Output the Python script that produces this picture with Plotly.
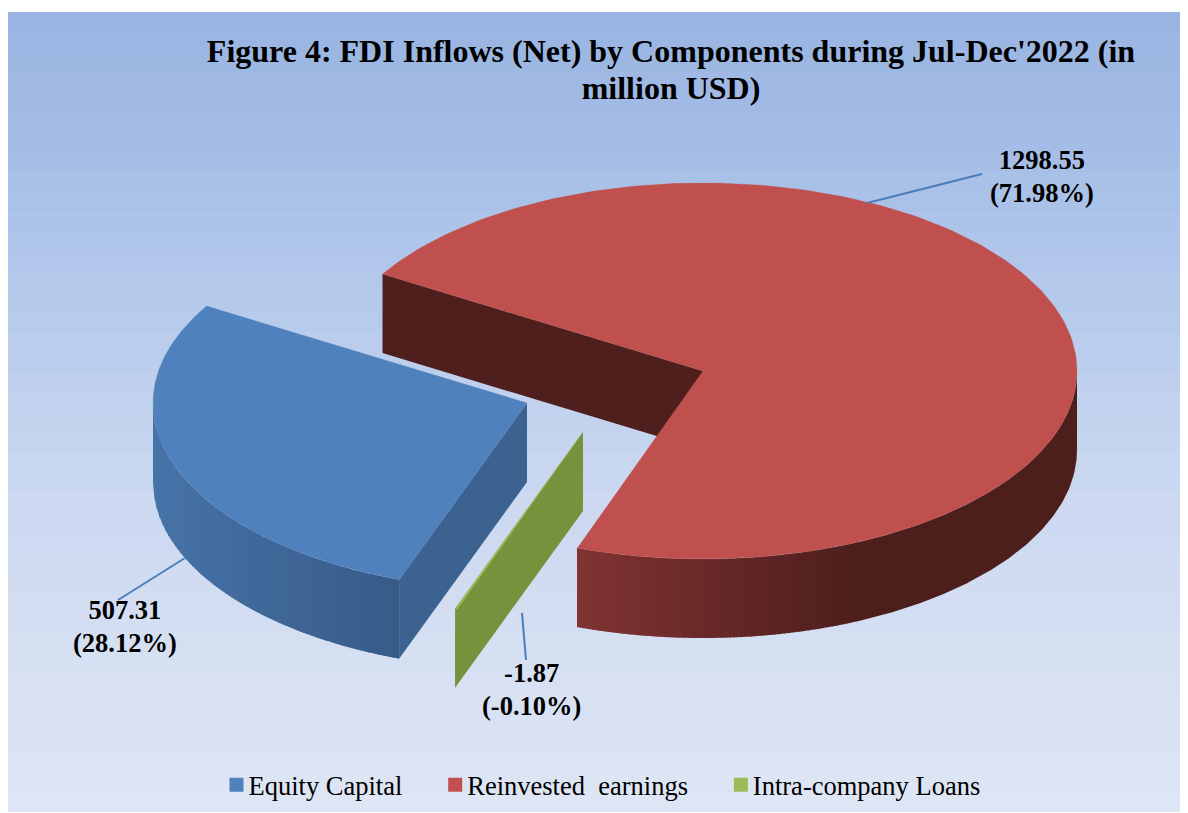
import math
import plotly.graph_objects as go

# ---- data ----
categories = ["Equity Capital", "Reinvested  earnings", "Intra-company Loans"]
values = [507.31, 1298.55, -1.87]
shares = ["28.12%", "71.98%", "-0.10%"]

# ---- chart geometry (pixel-based axes; the page body adds an 8 px margin) ----
W, H = 1188, 813
PAGE = 8
RX, RY, DEPTH = 374, 188, 79
CENTER = (703, 371)
START_ANGLE = 200.0
EXPLODE = [(-176, 32), (0, 0), (-120, 61)]
TOPS = ["#4F81BD", "#C0504D", "#9BBB59"]
CUT_FACE = ["#3C6390", "#4E1F1C", "#76923C"]
LEADER = "#4A7EBB"
SERIF = "Liberation Serif, Times New Roman, serif"


def lerp(c1, c2, t):
    t = max(0.0, min(1.0, t))
    return "rgb(%d,%d,%d)" % tuple(round(a + (b - a) * t) for a, b in zip(c1, c2))


def pt(cx, cy, ang, drop=0.0):
    a = math.radians(ang)
    return cx + RX * math.sin(a), cy - RY * math.cos(a) + drop


def arc(cx, cy, a0, a1, drop=0.0, n=200):
    return [pt(cx, cy, a0 + (a1 - a0) * i / n, drop=drop) for i in range(n + 1)]


def front_y(cx, cy, x):
    u = max(-1.0, min(1.0, (x - cx) / RX))
    return cy + RY * math.sqrt(1 - u * u)


fig = go.Figure()


def poly(points, color, line_color=None, line_width=0.0):
    xs = [p[0] for p in points] + [points[0][0]]
    ys = [p[1] for p in points] + [points[0][1]]
    fig.add_trace(go.Scatter(
        x=xs, y=ys, mode="lines", fill="toself", fillcolor=color,
        line=dict(color=line_color or color, width=line_width),
        hoverinfo="skip", showlegend=False))


def wall_strips(cx, cy, x_from, x_to, colour_at, step=3):
    """Vertical strips on whole pixels, each overlapping the next one."""
    x = x_from
    while x < x_to:
        x1 = min(x + step + 1, x_to)
        xs = [x + (x1 - x) * i / 3 for i in range(4)]
        top = [(q, front_y(cx, cy, q)) for q in xs]
        bot = [(q, front_y(cx, cy, q) + DEPTH) for q in reversed(xs)]
        poly(top + bot, colour_at(x + step / 2))
        x += step


# background gradient
n_grad = 40
fig.add_trace(go.Heatmap(
    x=[0, 600, W],
    y=[12 + (812 - 12) * i / n_grad for i in range(n_grad + 1)],
    z=[[i, i] for i in range(n_grad)], zmin=0, zmax=n_grad - 1,
    colorscale=[[0, "#99B4E2"], [0.35, "#B4C9EB"], [0.6, "#CBD8F0"], [1, "#DEE6F5"]],
    showscale=False, hoverinfo="skip"))

# slice angles come from the values
total = sum(abs(v) for v in values)
angles = []
a = START_ANGLE
for v in values:
    s = abs(v) / total * 360
    angles.append((a, a + s))
    a += s

# red slice (index 1)
c = (CENTER[0] + EXPLODE[1][0], CENTER[1] + EXPLODE[1][1])
a0, a1 = angles[1]
e0 = pt(c[0], c[1], a0)
poly([c, e0, (e0[0], e0[1] + DEPTH), (c[0], c[1] + DEPTH)], CUT_FACE[1])
red_l, red_d = (128, 51, 50), (76, 30, 28)
x_left = round(pt(c[0], c[1], a1)[0])
X_DARK = 860
wall_strips(c[0], c[1], x_left, X_DARK,
            lambda x: lerp(red_l, red_d, (x - x_left) / (X_DARK - x_left)))
dark_top = arc(c[0], c[1], 90, 180 + math.degrees(math.asin((c[0] - X_DARK) / RX)), n=120)
dark_bot = arc(c[0], c[1], 180 + math.degrees(math.asin((c[0] - X_DARK) / RX)), 90, drop=DEPTH, n=120)
poly(dark_top + dark_bot, lerp(red_d, red_d, 0))
poly(arc(c[0], c[1], a0, a1) + [c], TOPS[1], line_width=0.3)

# blue slice (index 0)
c = (CENTER[0] + EXPLODE[0][0], CENTER[1] + EXPLODE[0][1])
a0, a1 = angles[0]
blue_l, blue_d = (70, 115, 168), (56, 91, 136)
x_end = round(pt(c[0], c[1], a0)[0])
x_start = round(c[0] - RX)
wall_strips(c[0], c[1], x_start, x_end,
            lambda x: lerp(blue_l, blue_d, (x - x_start) / (x_end - x_start)))
e = pt(c[0], c[1], a0)
poly([c, e, (e[0], e[1] + DEPTH), (c[0], c[1] + DEPTH)], CUT_FACE[0])
poly(arc(c[0], c[1], a0, a1) + [c], TOPS[0], line_width=0.3)

# green sliver (index 2)
c = (CENTER[0] + EXPLODE[2][0], CENTER[1] + EXPLODE[2][1])
a0, a1 = angles[2]
e = pt(c[0], c[1], a1)
poly([c, e, (e[0], e[1] + DEPTH), (c[0], c[1] + DEPTH)], CUT_FACE[2])
poly(arc(c[0], c[1], a0, a1, n=4) + [c], TOPS[2], line_color=TOPS[2], line_width=0.4)

# leader lines
LEADERS = [((185, 558), (118, 600)), ((867, 203), (982, 174)), ((522, 613), (526, 660))]
for p, q in LEADERS:
    fig.add_trace(go.Scatter(x=[p[0], q[0]], y=[p[1], q[1]], mode="lines",
                             line=dict(color=LEADER, width=2),
                             hoverinfo="skip", showlegend=False))

# data labels
LABEL_POS = [(125, 626), (1042, 176), (531, 689.5)]
for v, s, (x, y) in zip(values, shares, LABEL_POS):
    fig.add_annotation(
        x=x, y=y, showarrow=False,
        text=f'<span style="font-size:26.5px"><b>{v}</b><br><b>({s})</b></span>',
        font=dict(family=SERIF, size=25.4, color="black"))

# legend entries
for name, col in zip(categories, TOPS):
    fig.add_trace(go.Scatter(
        x=[None], y=[None], mode="markers", name=name.replace("  ", "\u00a0 ") + "\u00a0" * 3,
        marker=dict(symbol="square", size=14, color=col), hoverinfo="skip"))

fig.update_layout(
    width=W - PAGE, height=H - PAGE, margin=dict(l=0, r=0, t=0, b=0),
    autosize=False,
    paper_bgcolor="white", plot_bgcolor="white",
    xaxis=dict(range=[PAGE, W], visible=False, fixedrange=True),
    yaxis=dict(range=[H, PAGE], visible=False, fixedrange=True),
    title=dict(
        text="<span style=\"font-size:32px\"><b>Figure 4: FDI Inflows (Net) by Components during "
             "Jul-Dec'2022 (in<br>million USD)</b></span>",
        x=(671 - PAGE) / (W - PAGE), xanchor="center", y=1 - 54 / (H - PAGE), yanchor="top",
        font=dict(family=SERIF, size=28.5, color="black")),
    legend=dict(orientation="h", x=(607 - PAGE) / (W - PAGE), xanchor="center",
                y=1 - (785 - PAGE) / (H - PAGE), yanchor="middle",
                font=dict(family=SERIF, size=26.5, color="black"),
                bgcolor="rgba(0,0,0,0)", itemclick=False, itemdoubleclick=False),
)

# the native legend keeps a wide gap before its text: slide the swatches next to it
NUDGE = """
var nudge = function () {
  document.querySelectorAll('.legend .legendsymbols').forEach(function (g) {
    g.setAttribute('transform', 'translate(8,0)');
  });
};
nudge(); setTimeout(nudge, 0); setTimeout(nudge, 100);
"""
fig.write_html("out.html", config=dict(displayModeBar=False), post_script=NUDGE)
